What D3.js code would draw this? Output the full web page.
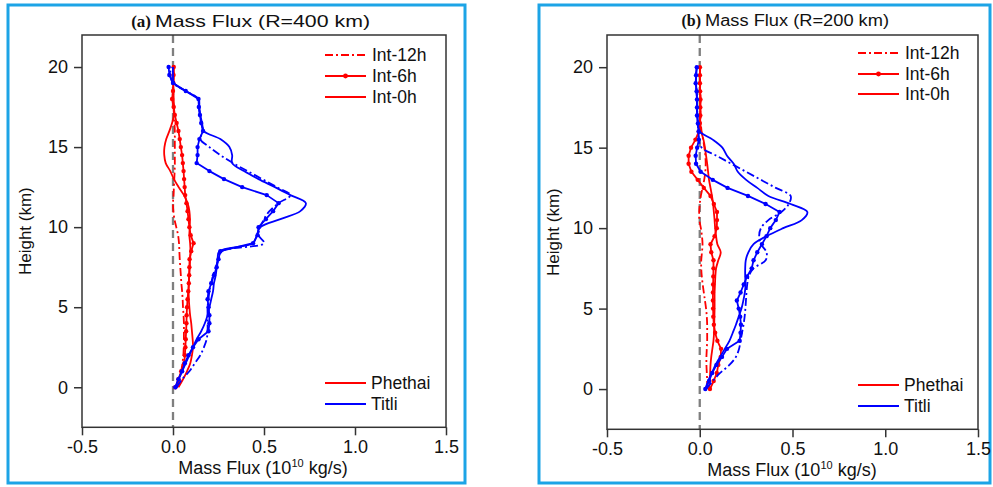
<!DOCTYPE html>
<html>
<head>
<meta charset="utf-8">
<script src="https://cdn.jsdelivr.net/npm/d3@7"></script>
<style>
  body { margin: 0; background: #fff; }
  text { font-family: "Liberation Sans", Arial, sans-serif; fill: #111; }
</style>
</head>
<body>
<svg width="993" height="487"></svg>
<script>
// heights (km) shared by every profile
var heights = [0, 0.5, 1, 1.5, 2, 2.5, 3, 3.5, 4, 4.5, 5, 5.5, 6, 6.5, 7, 7.5, 8, 8.5, 9, 9.5,
               10, 10.5, 11, 11.5, 12, 12.5, 13, 13.5, 14, 14.5, 15, 15.5, 16, 16.5, 17, 17.5, 18, 18.5, 19, 19.5, 20];

// panel (a) R=400 km, mass flux in 10^10 kg/s
var phethaiA12 = [0.024, 0.035, 0.045, 0.052, 0.057, 0.059, 0.06, 0.06, 0.06, 0.058, 0.055, 0.053, 0.05, 0.046, 0.043, 0.04, 0.037, 0.035, 0.033, 0.028,
                  0.018, 0.008, 0.002, 0.0, 0.003, 0.005, 0.007, 0.009, 0.01, 0.01, 0.01, 0.01, 0.01, 0.008, 0.005, 0.003, 0.002, 0.002, 0.002, 0.003, 0.004];
var phethaiA6  = [0.013, 0.03, 0.045, 0.062, 0.065, 0.068, 0.07, 0.072, 0.074, 0.075, 0.077, 0.08, 0.084, 0.087, 0.089, 0.09, 0.091, 0.1, 0.113, 0.097,
                  0.09, 0.085, 0.08, 0.074, 0.067, 0.064, 0.061, 0.058, 0.054, 0.05, 0.043, 0.037, 0.03, 0.02, 0.01, 0.004, -0.005, 0.0, 0.002, 0.003, 0.004];
var phethaiA0  = [0.03, 0.055, 0.077, 0.095, 0.104, 0.11, 0.108, 0.104, 0.1, 0.094, 0.09, 0.087, 0.086, 0.087, 0.089, 0.092, 0.094, 0.096, 0.094, 0.09,
                  0.092, 0.093, 0.09, 0.08, 0.06, 0.031, 0.005, -0.015, -0.04, -0.048, -0.047, -0.037, -0.02, -0.005, 0.005, 0.006, 0.003, 0.002, 0.002, 0.003, 0.004];
var titliA12   = [0.02, 0.05, 0.09, 0.12, 0.15, 0.17, 0.185, 0.19, 0.19, 0.19, 0.19, 0.195, 0.2, 0.21, 0.22, 0.235, 0.25, 0.27, 0.5, 0.47,
                  0.48, 0.5, 0.53, 0.58, 0.645, 0.57, 0.49, 0.41, 0.33, 0.26, 0.2, 0.15, 0.165, 0.155, 0.148, 0.142, 0.14, 0.07, 0.0, -0.015, -0.01];
var titliA6    = [0.013, 0.03, 0.05, 0.065, 0.085, 0.11, 0.14, 0.195, 0.2, 0.2, 0.195, 0.19, 0.195, 0.21, 0.225, 0.24, 0.25, 0.26, 0.44, 0.465,
                  0.47, 0.51, 0.55, 0.58, 0.515, 0.38, 0.28, 0.2, 0.13, 0.135, 0.135, 0.145, 0.165, 0.155, 0.148, 0.142, 0.14, 0.07, 0.0, -0.02, -0.024];
var titliA0    = [0.013, 0.03, 0.05, 0.07, 0.09, 0.11, 0.13, 0.155, 0.175, 0.19, 0.2, 0.21, 0.22, 0.225, 0.235, 0.24, 0.245, 0.255, 0.44, 0.46,
                  0.48, 0.59, 0.7, 0.73, 0.645, 0.56, 0.47, 0.39, 0.325, 0.325, 0.31, 0.26, 0.17, 0.16, 0.15, 0.145, 0.14, 0.07, 0.005, 0.0, 0.0];

// panel (b) R=200 km
var phethaiB12 = [0.04, 0.04, 0.038, 0.036, 0.036, 0.038, 0.04, 0.04, 0.04, 0.038, 0.034, 0.028, 0.022, 0.016, 0.011, 0.008, 0.008, 0.012, 0.015, 0.012,
                  0.006, -0.002, -0.003, 0.0, 0.006, 0.015, 0.024, 0.03, 0.032, 0.03, 0.025, 0.018, 0.01, 0.006, 0.004, 0.004, 0.004, 0.003, 0.002, 0.002, 0.002];
var phethaiB6  = [0.055, 0.075, 0.092, 0.1, 0.113, 0.115, 0.095, 0.083, 0.076, 0.073, 0.072, 0.071, 0.071, 0.072, 0.073, 0.074, 0.074, 0.062, 0.058, 0.08,
                  0.092, 0.093, 0.093, 0.076, 0.058, 0.022, -0.011, -0.045, -0.06, -0.06, -0.047, -0.023, -0.005, 0.0, 0.003, 0.003, 0.004, 0.002, 0.001, 0.001, 0.001];
var phethaiB0  = [0.05, 0.053, 0.056, 0.058, 0.062, 0.068, 0.074, 0.077, 0.078, 0.079, 0.08, 0.08, 0.08, 0.082, 0.084, 0.088, 0.1, 0.113, 0.095, 0.088,
                  0.083, 0.08, 0.076, 0.072, 0.066, 0.058, 0.05, 0.045, 0.04, 0.034, 0.028, 0.02, 0.008, 0.003, 0.003, 0.003, 0.003, 0.002, 0.001, 0.001, 0.001];
var titliB12   = [0.035, 0.07, 0.11, 0.16, 0.195, 0.212, 0.22, 0.228, 0.236, 0.242, 0.246, 0.249, 0.252, 0.256, 0.264, 0.29, 0.355, 0.36, 0.33, 0.32,
                  0.33, 0.37, 0.44, 0.48, 0.49, 0.41, 0.33, 0.25, 0.17, 0.09, 0.01, -0.005, -0.008, -0.01, -0.012, -0.015, -0.015, -0.017, -0.02, -0.02, -0.016];
var titliB6    = [0.03, 0.05, 0.067, 0.09, 0.12, 0.147, 0.215, 0.22, 0.222, 0.218, 0.21, 0.2, 0.22, 0.237, 0.255, 0.28, 0.29, 0.31, 0.335, 0.36,
                  0.38, 0.41, 0.43, 0.355, 0.26, 0.15, 0.07, 0.005, -0.02, -0.022, -0.014, -0.005, -0.006, -0.01, -0.015, -0.015, -0.015, -0.017, -0.022, -0.02, -0.016];
var titliB0    = [0.03, 0.045, 0.065, 0.085, 0.11, 0.135, 0.16, 0.178, 0.195, 0.21, 0.225, 0.235, 0.243, 0.247, 0.245, 0.245, 0.248, 0.262, 0.29, 0.36,
                  0.45, 0.55, 0.58, 0.49, 0.37, 0.31, 0.25, 0.205, 0.183, 0.147, 0.122, 0.07, 0.0, -0.01, -0.012, -0.015, -0.015, -0.017, -0.02, -0.02, -0.016];

var xTicks = [-0.5, 0, 0.5, 1, 1.5];
var yTicks = [0, 5, 10, 15, 20];
var runLabels = ['Int-12h', 'Int-6h', 'Int-0h'];
var stormLabels = ['Phethai', 'Titli'];

var red = '#ff0000', blue = '#0000ff';
var runDash = { 'Int-12h': '8,3,2,3', 'Int-6h': null, 'Int-0h': null };

var panels = [
  { tag: '(a)', title: 'Mass Flux (R=400 km)', box: [8, 5, 465, 483], plot: [82, 35, 446, 427.3],
    titleX: 151, titleY: 27, titleSize: 17, titleLen: 215, yLabelX: 25, xLabelX: 263,
    legX: 325, legY: [55, 76, 97], legY2: [383, 404],
    series: [[phethaiA12, red, 'Int-12h'], [phethaiA6, red, 'Int-6h'], [phethaiA0, red, 'Int-0h'],
             [titliA12, blue, 'Int-12h'], [titliA6, blue, 'Int-6h'], [titliA0, blue, 'Int-0h']] },
  { tag: '(b)', title: 'Mass Flux (R=200 km)', box: [539, 5, 990, 483], plot: [607, 35, 978, 429.3],
    titleX: 701, titleY: 26, titleSize: 16, titleLen: 184, yLabelX: 553, xLabelX: 792,
    legX: 858, legY: [53, 74, 94], legY2: [385, 406],
    series: [[phethaiB12, red, 'Int-12h'], [phethaiB6, red, 'Int-6h'], [phethaiB0, red, 'Int-0h'],
             [titliB12, blue, 'Int-12h'], [titliB6, blue, 'Int-6h'], [titliB0, blue, 'Int-0h']] }
];

var svg = d3.select('svg');

panels.forEach(function(p) {
  var b = p.box, r = p.plot;

  svg.append('rect')
    .attr('x', b[0]).attr('y', b[1])
    .attr('width', b[2] - b[0]).attr('height', b[3] - b[1])
    .attr('fill', 'none').attr('stroke', '#1ca4e6').attr('stroke-width', 3);

  var x = d3.scaleLinear().domain([-0.5, 1.5]).range([r[0], r[2]]);
  var y = d3.scaleLinear().domain([-2.5, 22]).range([r[3], r[1]]);

  // title
  svg.append('text')
    .attr('x', p.titleX).attr('y', p.titleY)
    .attr('text-anchor', 'end')
    .style('font-family', '"Liberation Serif", "Times New Roman", serif')
    .style('font-weight', 'bold').style('font-size', p.titleSize + 'px')
    .text(p.tag);
  svg.append('text')
    .attr('x', p.titleX + 4).attr('y', p.titleY)
    .style('font-size', p.titleSize + 'px')
    .attr('textLength', p.titleLen).attr('lengthAdjust', 'spacingAndGlyphs')
    .text(p.title);

  // zero line
  svg.append('line')
    .attr('x1', x(0)).attr('x2', x(0))
    .attr('y1', r[1]).attr('y2', r[3])
    .attr('stroke', '#7f7f7f').attr('stroke-width', 2.3)
    .attr('stroke-dasharray', '8,5');

  var g = svg.append('g');
  p.series.forEach(function(s) {
    var vals = s[0], color = s[1], run = s[2];
    var pts = heights.map(function(h, i) { return [vals[i], h]; });
    var line = d3.line()
      .x(function(d) { return x(d[0]); })
      .y(function(d) { return y(d[1]); })
      .curve(run === 'Int-6h' ? d3.curveLinear : d3.curveCatmullRom.alpha(0.5));
    g.append('path')
      .datum(pts)
      .attr('d', line)
      .attr('fill', 'none')
      .attr('stroke', color)
      .attr('stroke-width', 1.8)
      .attr('stroke-linejoin', 'round')
      .attr('stroke-dasharray', runDash[run]);
    if (run === 'Int-6h') {
      g.selectAll(null)
        .data(pts)
        .enter().append('circle')
        .attr('cx', function(d) { return x(d[0]); })
        .attr('cy', function(d) { return y(d[1]); })
        .attr('r', 2.2)
        .attr('fill', color);
    }
  });

  // frame
  svg.append('rect')
    .attr('x', r[0]).attr('y', r[1])
    .attr('width', r[2] - r[0]).attr('height', r[3] - r[1])
    .attr('fill', 'none').attr('stroke', '#333').attr('stroke-width', 1.5);

  var xAxis = svg.append('g')
    .attr('transform', 'translate(0,' + r[3] + ')')
    .call(d3.axisBottom(x).tickValues(xTicks).tickSize(8).tickPadding(5).tickSizeOuter(0)
      .tickFormat(function(d) { return d.toFixed(1); }));
  var yAxis = svg.append('g')
    .attr('transform', 'translate(' + r[0] + ',0)')
    .call(d3.axisLeft(y).tickValues(yTicks).tickSize(8).tickPadding(6).tickSizeOuter(0));
  [xAxis, yAxis].forEach(function(a) {
    a.select('.domain').remove();
    a.selectAll('line').attr('stroke', '#333').attr('stroke-width', 1.5);
    a.selectAll('text').style('font-size', '18px')
      .style('font-family', '"Liberation Sans", Arial, sans-serif').attr('fill', '#111');
  });

  // axis titles
  svg.append('text')
    .attr('transform', 'translate(' + p.yLabelX + ',' + ((r[1] + r[3]) / 2) + ') rotate(-90)')
    .attr('text-anchor', 'middle').attr('dy', '0.35em')
    .style('font-size', '17px')
    .text('Height (km)');
  var xt = svg.append('text')
    .attr('x', p.xLabelX).attr('y', r[3] + 47)
    .attr('text-anchor', 'middle')
    .style('font-size', '18px');
  xt.append('tspan').text('Mass Flux (10');
  xt.append('tspan').attr('dy', -7).style('font-size', '11px').text('10');
  xt.append('tspan').attr('dy', 7).text(' kg/s)');

  // legend: runs
  runLabels.forEach(function(lab, i) {
    var ly = p.legY[i];
    svg.append('line')
      .attr('x1', p.legX).attr('x2', p.legX + 41)
      .attr('y1', ly).attr('y2', ly)
      .attr('stroke', red).attr('stroke-width', 1.8)
      .attr('stroke-dasharray', runDash[lab]);
    if (lab === 'Int-6h') {
      svg.append('circle').attr('cx', p.legX + 20.5).attr('cy', ly).attr('r', 2.4).attr('fill', red);
    }
    svg.append('text')
      .attr('x', p.legX + 47).attr('y', ly).attr('dy', '0.35em')
      .style('font-size', '17.5px')
      .text(lab);
  });
  // legend: storms
  stormLabels.forEach(function(lab, i) {
    var ly = p.legY2[i];
    svg.append('line')
      .attr('x1', p.legX).attr('x2', p.legX + 41)
      .attr('y1', ly).attr('y2', ly)
      .attr('stroke', i === 0 ? red : blue).attr('stroke-width', 1.8);
    svg.append('text')
      .attr('x', p.legX + 46).attr('y', ly).attr('dy', '0.35em')
      .style('font-size', '17.5px')
      .text(lab);
  });
});
</script>
</body>
</html>
